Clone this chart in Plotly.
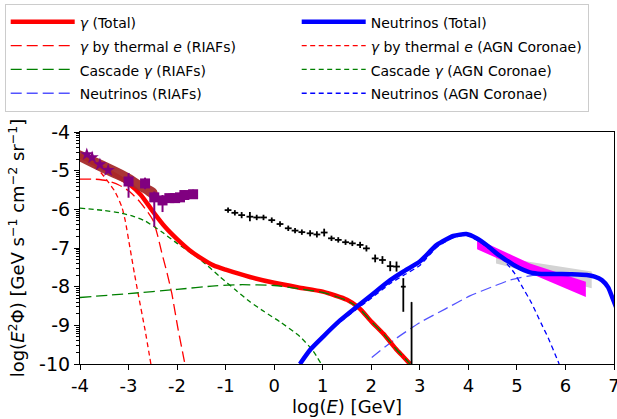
import numpy as np
import plotly.graph_objects as go

# ---------------- data ----------------
# gamma total (thick red)
gt_x = [-4.0, -3.75, -3.5, -3.25, -3.0, -2.75, -2.5, -2.25, -2.0, -1.75, -1.5, -1.25, -1.0, -0.5, 0.0, 0.5, 1.0, 1.5, 1.75, 2.0, 2.25, 2.5, 2.65, 2.8]
gt_y = [-4.6, -4.78, -4.95, -5.13, -5.33, -5.62, -6.05, -6.45, -6.77, -7.05, -7.27, -7.45, -7.56, -7.75, -7.9, -8.02, -8.13, -8.34, -8.55, -8.9, -9.22, -9.6, -9.8, -10.0]

# gamma by thermal e (RIAFs) - red long dash
rt_x = [-4.0, -3.7, -3.45, -3.2, -3.0, -2.8, -2.6, -2.49, -2.4, -2.32, -2.2, -2.11, -1.98, -1.87, -1.84]
rt_y = [-5.22, -5.22, -5.26, -5.37, -5.52, -5.76, -6.08, -6.3, -6.68, -7.1, -7.68, -8.17, -9.1, -9.8, -10.0]

# gamma by thermal e (AGN coronae) - red short dash
ct_x = [-4.0, -3.8, -3.62, -3.45, -3.28, -3.14, -3.07, -2.97, -2.88, -2.8, -2.66, -2.54]
ct_y = [-4.68, -4.8, -4.98, -5.24, -5.54, -5.93, -6.28, -7.0, -7.65, -8.2, -9.12, -10.0]

# cascade gamma (RIAFs) - green long dash
rc_x = [-4.0, -3.0, -2.0, -1.22, -0.7, 0.0, 0.5, 1.0, 1.5, 1.75, 2.0, 2.25, 2.5, 2.65, 2.8]
rc_y = [-8.28, -8.18, -8.07, -7.98, -7.95, -7.97, -8.05, -8.15, -8.36, -8.56, -8.9, -9.22, -9.6, -9.8, -10.0]

# cascade gamma (AGN coronae) - green short dash
cc_x = [-4.0, -3.5, -3.18, -2.9, -2.66, -2.32, -2.0, -1.5, -1.12, -0.8, -0.5, -0.2, 0.12, 0.53, 0.8, 0.97]
cc_y = [-5.97, -6.03, -6.09, -6.18, -6.3, -6.58, -6.88, -7.32, -7.74, -8.08, -8.39, -8.65, -8.91, -9.29, -9.66, -10.0]

# neutrinos total (thick blue)
nt_x = [0.53, 0.75, 1.01, 1.35, 1.7, 2.0, 2.39, 2.7, 3.0, 3.35, 3.69, 3.96, 4.17, 4.4, 4.58, 4.8, 4.99, 5.27, 5.5, 5.75, 6.1, 6.44, 6.6, 6.75, 6.88, 6.97, 7.05]
nt_y = [-10.0, -9.62, -9.29, -8.88, -8.52, -8.22, -7.83, -7.58, -7.35, -6.92, -6.69, -6.64, -6.75, -6.95, -7.14, -7.33, -7.48, -7.63, -7.67, -7.67, -7.68, -7.7, -7.74, -7.83, -8.02, -8.3, -8.55]

# neutrinos (RIAFs) - blue long dash
nr_x = [2.01, 2.5, 3.0, 3.52, 4.03, 4.5, 4.86, 5.27, 5.7, 6.2, 6.5, 6.75, 6.9, 7.05]
nr_y = [-9.83, -9.35, -8.93, -8.58, -8.24, -8.0, -7.83, -7.72, -7.68, -7.69, -7.72, -7.85, -8.05, -8.4]

# neutrinos (AGN coronae) - blue short dash
nc_x = [0.53, 0.75, 1.01, 1.35, 1.7, 2.0, 2.39, 2.7, 3.0, 3.35, 3.69, 3.96, 4.17, 4.4, 4.65, 4.79, 4.95, 5.1, 5.3, 5.5, 5.65, 5.82, 5.87]
nc_y = [-10.0, -9.63, -9.31, -8.92, -8.58, -8.3, -7.92, -7.68, -7.45, -6.98, -6.73, -6.67, -6.79, -6.99, -7.22, -7.4, -7.65, -7.98, -8.42, -8.95, -9.34, -9.85, -10.0]

# brown band (low-energy measurement)
band_x = [-4.0, -3.5, -3.0, -2.7, -2.42]
band_hi = [-4.47, -4.75, -5.06, -5.3, -5.5]
band_lo = [-4.77, -5.08, -5.37, -5.58, -5.8]

# purple stars
star_x = [-3.86, -3.75, -3.59, -3.42]
star_y = [-4.58, -4.66, -4.84, -4.99]

# purple squares with error bars
sq_x = [-3.0, -2.66, -2.47, -2.3, -2.16, -2.04, -1.94, -1.85, -1.67]
sq_y = [-5.28, -5.33, -5.69, -5.77, -5.71, -5.71, -5.69, -5.63, -5.61]
sq_up = [0.22, 0.15, 0.15, 0.14, 0.12, 0.12, 0.12, 0.12, 0.12]
sq_dn = [0.42, 0.15, 0.76, 0.3, 0.12, 0.12, 0.12, 0.12, 0.12]

# black crosses
bk_x = [-0.95, -0.81, -0.67, -0.5, -0.36, -0.22, -0.05, 0.12, 0.29, 0.43, 0.57, 0.74, 0.88, 1.03, 1.18, 1.32, 1.47, 1.61, 1.77, 1.9, 2.08, 2.23, 2.39, 2.52, 2.66]
bk_y = [-6.02, -6.09, -6.15, -6.19, -6.21, -6.21, -6.28, -6.38, -6.49, -6.55, -6.59, -6.62, -6.65, -6.6, -6.75, -6.79, -6.85, -6.88, -6.92, -7.01, -7.27, -7.31, -7.47, -7.48, -8.0]
bk_up = [0.07, 0.07, 0.08, 0.12, 0.07, 0.07, 0.07, 0.07, 0.07, 0.07, 0.07, 0.08, 0.08, 0.1, 0.07, 0.07, 0.07, 0.07, 0.08, 0.08, 0.1, 0.1, 0.13, 0.13, 0.22]
bk_dn = [0.07, 0.07, 0.08, 0.12, 0.07, 0.07, 0.07, 0.07, 0.07, 0.07, 0.07, 0.08, 0.08, 0.1, 0.07, 0.07, 0.07, 0.07, 0.08, 0.08, 0.1, 0.1, 0.13, 0.13, 0.65]
bk_dx = [0.07] * 24 + [0.05]

# upper limit bar
ul_x = [2.83]
ul_y = [-8.4]
ul_dn = [1.6]

# magenta band (polygon: upper edge then lower edge reversed)
mg_x = [4.18, 5.27, 6.42, 6.42, 5.27, 4.18]
mg_y = [-6.77, -7.40, -7.87, -8.27, -7.65, -7.03]

# gray band
gr_x = [4.57, 6.54, 6.54, 4.57]
gr_y = [-7.22, -7.61, -8.04, -7.40]

x_ticks = [-4, -3, -2, -1, 0, 1, 2, 3, 4, 5, 6, 7]
y_ticks = [-10, -9, -8, -7, -6, -5, -4]

# ---------------- figure ----------------
FONT = "DejaVu Sans"
fig = go.Figure()

def poly(x, y, color):
    fig.add_trace(go.Scatter(x=x, y=y, mode="lines", fill="toself", fillcolor=color,
                             line=dict(width=0, color=color), showlegend=False, hoverinfo="skip"))

def lbl(s):
    return '<span style="font-size:14px">' + s + '</span>'

def curve(x, y, name, color, width, dash, rank):
    fig.add_trace(go.Scatter(x=x, y=y, mode="lines", name=lbl(name),
                             line=dict(color=color, width=width, dash=dash, shape="spline", smoothing=0.6),
                             legendrank=rank))

LONG = "11px,5px"
SHORT = "5px,3.5px"

poly(gr_x, gr_y, "#d3d3d3")
poly(mg_x, mg_y, "#ff00ff")

curve(ct_x, ct_y, "<i>γ</i> by thermal <i>e</i> (AGN Coronae)", "#ff0000", 1.3, SHORT, 4)
curve(rt_x, rt_y, "<i>γ</i> by thermal <i>e</i> (RIAFs)", "#ff0000", 1.3, LONG, 3)
curve(cc_x, cc_y, "Cascade <i>γ</i> (AGN Coronae)", "#008000", 1.3, SHORT, 6)
curve(nc_x, nc_y, "Neutrinos (AGN Coronae)", "#0000ff", 1.3, SHORT, 8)
curve(nr_x, nr_y, "Neutrinos (RIAFs)", "rgba(40,40,255,0.8)", 1.3, LONG, 7)
curve(gt_x, gt_y, "<i>γ</i> (Total)", "#ff0000", 4.5, "solid", 1)
curve(rc_x, rc_y, "Cascade <i>γ</i> (RIAFs)", "#008000", 1.3, LONG, 5)

# brown band
fig.add_trace(go.Scatter(x=band_x + band_x[::-1], y=band_hi + band_lo[::-1], mode="lines",
                         fill="toself", fillcolor="rgba(165,42,42,0.95)",
                         line=dict(width=0, color="rgba(165,42,42,0.95)", shape="spline"),
                         showlegend=False, hoverinfo="skip"))

fig.add_trace(go.Scatter(x=sq_x, y=sq_y, mode="markers", showlegend=False,
                         marker=dict(symbol="square", size=10, color="#800080"),
                         error_y=dict(type="data", symmetric=False, array=sq_up, arrayminus=sq_dn,
                                      color="#800080", thickness=2, width=0)))
fig.add_trace(go.Scatter(x=star_x, y=star_y, mode="markers", showlegend=False,
                         marker=dict(symbol="star", size=10, color="#800080")))

curve(nt_x, nt_y, "Neutrinos (Total)", "#0000ff", 4.5, "solid", 2)

fig.add_trace(go.Scatter(x=bk_x, y=bk_y, mode="markers", showlegend=False,
                         marker=dict(size=1, color="black"),
                         error_y=dict(type="data", symmetric=False, array=bk_up, arrayminus=bk_dn,
                                      color="black", thickness=1.8, width=0),
                         error_x=dict(type="data", array=bk_dx, color="black", thickness=1.8, width=0)))
fig.add_trace(go.Scatter(x=ul_x, y=ul_y, mode="markers", showlegend=False,
                         marker=dict(size=1, color="black"),
                         error_y=dict(type="data", symmetric=False, array=[0], arrayminus=ul_dn,
                                      color="black", thickness=1.8, width=0)))

minor_y = [n + np.log10(k) for n in range(-10, -4) for k in range(2, 10)]

fig.update_layout(
    width=617, height=419,
    margin=dict(l=80, r=3, t=132, b=55, autoexpand=False),
    paper_bgcolor="white", plot_bgcolor="white",
    font=dict(family=FONT, size=18, color="black"),
    legend=dict(
        xref="paper", yref="paper", x=-0.141, y=1.552, xanchor="left", yanchor="top",
        orientation="h", font=dict(family=FONT, size=16, color="black"),
        bordercolor="#cccccc", borderwidth=1, bgcolor="white",
        itemwidth=64, entrywidth=212, traceorder="normal",
    ),
    xaxis=dict(
        range=[-4, 7], tickmode="array", tickvals=x_ticks, ticktext=[str(v) for v in x_ticks],
        showgrid=False, zeroline=False, showline=True, linecolor="black", linewidth=1.2, mirror=True,
        ticks="outside", ticklen=5, tickcolor="black", tickfont=dict(size=18),
        ticklabeloverflow="allow",
        title=dict(text="log(<i>E</i>) [GeV]", font=dict(size=18), standoff=4),
    ),
    yaxis=dict(
        range=[-10, -4], tickmode="array", tickvals=y_ticks, ticktext=[str(v) for v in y_ticks],
        showgrid=False, zeroline=False, showline=True, linecolor="black", linewidth=1.2, mirror=True,
        ticks="outside", ticklen=5, tickcolor="black", tickfont=dict(size=19),
        minor=dict(tickmode="array", tickvals=minor_y, ticks="outside", ticklen=3, tickcolor="black", showgrid=False),
        title=dict(text="log(<i>E</i><sup>2</sup>Φ) [GeV s<sup>−1</sup> cm<sup>−2</sup> sr<sup>−1</sup>]",
                   font=dict(size=18), standoff=9),
    ),
)

fig.write_html("out.html", config={"displayModeBar": False},
               post_script="document.body.style.margin='0';document.body.style.overflow='hidden';")
